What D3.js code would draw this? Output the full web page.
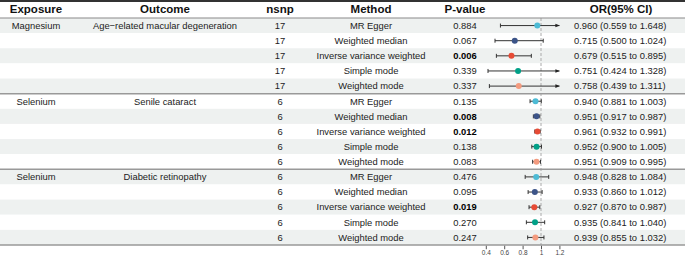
<!DOCTYPE html>
<html>
<head>
<meta charset="utf-8">
<script src="https://cdn.jsdelivr.net/npm/d3@7"></script>
<style>
    body { margin: 0; background: #fff; }
    svg text { font-family: "Liberation Sans", Arial, sans-serif; }
</style>
</head>
<body>
<div id="chart"></div>
<script>
// groups (exposure / outcome / nsnp)
const exposures = ["Magnesium", "Selenium", "Selenium"];
const outcomes = ["Age\u2212related macular degeneration", "Senile cataract", "Diabetic retinopathy"];
const nsnps = [17, 6, 6];
const methods = ["MR Egger", "Weighted median", "Inverse variance weighted", "Simple mode", "Weighted mode"];

// per group, per method
const pValues = [
    ["0.884", "0.067", "0.006", "0.339", "0.337"],
    ["0.135", "0.008", "0.012", "0.138", "0.083"],
    ["0.476", "0.095", "0.019", "0.270", "0.247"],
];
const orValues = [
    [0.960, 0.715, 0.679, 0.751, 0.758],
    [0.940, 0.951, 0.961, 0.952, 0.951],
    [0.948, 0.933, 0.927, 0.935, 0.939],
];
const ciLow = [
    [0.559, 0.500, 0.515, 0.424, 0.439],
    [0.881, 0.917, 0.932, 0.900, 0.909],
    [0.828, 0.860, 0.870, 0.841, 0.855],
];
const ciHigh = [
    [1.648, 1.024, 0.895, 1.328, 1.311],
    [1.003, 0.987, 0.991, 1.005, 0.995],
    [1.084, 1.012, 0.987, 1.040, 1.032],
];
const xTicks = [0.4, 0.6, 0.8, 1, 1.2];

const W = 685, H = 257;
const headerTop = 1, headerBottom = 18, tableBottom = 245;

// flatten to one row per method
let rows = [];
exposures.forEach((e, g) => {
    methods.forEach((m, k) => {
        rows.push({
            group: g,
            first: k === 0,
            exposure: e,
            outcome: outcomes[g],
            nsnp: nsnps[g],
            method: m,
            p: pValues[g][k],
            or: orValues[g][k],
            lo: ciLow[g][k],
            hi: ciHigh[g][k],
        });
    });
});

const svg = d3.select("#chart")
    .append("svg")
    .attr("width", W)
    .attr("height", H);

const y = d3.scaleBand()
    .domain(d3.range(rows.length))
    .range([headerBottom, tableBottom]);

const x = d3.scaleLinear()
    .domain([0.4, 1.2])
    .range([485.8, 559.4]);

const color = d3.scaleOrdinal()
    .domain(methods)
    .range(["#4DBBD5", "#3C5488", "#E64B35", "#00A087", "#F39B7F"]);

// column centres
const cols = { exposure: 36, outcome: 165, nsnp: 280, method: 371, p: 465, or: 621 };

// zebra background
svg.selectAll(".stripe")
    .data(rows)
    .enter()
    .append("rect")
    .attr("class", "stripe")
    .attr("x", 0)
    .attr("width", W)
    .attr("y", (d, i) => y(i))
    .attr("height", y.bandwidth())
    .attr("fill", (d, i) => (i % 2 === 0 ? "#eef1f0" : "#fff"));

// headers
const headers = [
    ["Exposure", cols.exposure],
    ["Outcome", cols.outcome],
    ["nsnp", cols.nsnp],
    ["Method", cols.method],
    ["P-value", cols.p],
    ["OR(95% CI)", cols.or],
];
svg.selectAll(".hdr")
    .data(headers)
    .enter()
    .append("text")
    .attr("class", "hdr")
    .attr("x", (d) => d[1])
    .attr("y", 13)
    .attr("text-anchor", "middle")
    .attr("font-size", "11.5px")
    .attr("font-weight", "bold")
    .attr("fill", "#111")
    .text((d) => d[0]);

// cell text
const cell = svg.selectAll(".row")
    .data(rows)
    .enter()
    .append("g")
    .attr("class", "row")
    .attr("transform", (d, i) => `translate(0, ${y(i) + y.bandwidth() / 2 + 3.3})`);

function addCell(sel, xPos, fn, anchor) {
    return sel.append("text")
        .attr("x", xPos)
        .attr("text-anchor", anchor || "middle")
        .attr("font-size", "9.4px")
        .attr("fill", "#222")
        .text(fn);
}

addCell(cell.filter((d) => d.first), cols.exposure, (d) => d.exposure);
addCell(cell.filter((d) => d.first), cols.outcome, (d) => d.outcome);
addCell(cell, cols.nsnp, (d) => d.nsnp);
addCell(cell, cols.method, (d) => d.method);
addCell(cell, cols.p, (d) => d.p)
    .attr("font-weight", (d) => (+d.p < 0.05 ? "bold" : "normal"))
    .attr("fill", (d) => (+d.p < 0.05 ? "#000" : "#222"));
addCell(cell, 574, (d) => `${d.or.toFixed(3)} (${d.lo.toFixed(3)} to ${d.hi.toFixed(3)})`, "start");

// reference line at OR = 1
svg.append("line")
    .attr("x1", x(1))
    .attr("x2", x(1))
    .attr("y1", headerBottom)
    .attr("y2", tableBottom)
    .attr("stroke", "#aaa")
    .attr("stroke-width", 1)
    .attr("stroke-dasharray", "3,2");

// arrowhead marker for CIs beyond the axis
svg.append("defs")
    .append("marker")
    .attr("id", "arrow")
    .attr("viewBox", "0 0 10 10")
    .attr("refX", 9)
    .attr("refY", 5)
    .attr("markerWidth", 4.5)
    .attr("markerHeight", 4.5)
    .attr("orient", "auto")
    .append("path")
    .attr("d", "M0,1L10,5L0,9Z")
    .attr("fill", "#222");

const [xmin, xmax] = x.domain();
const forest = svg.selectAll(".ci")
    .data(rows)
    .enter()
    .append("g")
    .attr("class", "ci")
    .attr("transform", (d, i) => `translate(0, ${y(i) + y.bandwidth() / 2})`);

forest.append("line")
    .attr("x1", (d) => x(Math.max(d.lo, xmin)))
    .attr("x2", (d) => x(Math.min(d.hi, xmax)))
    .attr("stroke", "#333")
    .attr("stroke-width", 1)
    .attr("marker-end", (d) => (d.hi > xmax ? "url(#arrow)" : null));

// caps
forest.filter((d) => d.lo >= xmin)
    .append("line")
    .attr("x1", (d) => x(d.lo))
    .attr("x2", (d) => x(d.lo))
    .attr("y1", -2)
    .attr("y2", 2)
    .attr("stroke", "#333");
forest.filter((d) => d.hi <= xmax)
    .append("line")
    .attr("x1", (d) => x(d.hi))
    .attr("x2", (d) => x(d.hi))
    .attr("y1", -2)
    .attr("y2", 2)
    .attr("stroke", "#333");

forest.append("circle")
    .attr("cx", (d) => x(d.or))
    .attr("r", 3)
    .attr("fill", (d) => color(d.method));

// rules
svg.append("line")
    .attr("x1", 0).attr("x2", W)
    .attr("y1", headerTop).attr("y2", headerTop)
    .attr("stroke", "#333")
    .attr("stroke-width", 2);
svg.append("line")
    .attr("x1", 0).attr("x2", W)
    .attr("y1", headerBottom).attr("y2", headerBottom)
    .attr("stroke", "#8a8a8a")
    .attr("stroke-width", 1.2);
svg.selectAll(".sep")
    .data(rows.filter((d, i) => d.first && i > 0))
    .enter()
    .append("line")
    .attr("class", "sep")
    .attr("x1", 0).attr("x2", W)
    .attr("y1", (d) => y(rows.indexOf(d)))
    .attr("y2", (d) => y(rows.indexOf(d)))
    .attr("stroke", "#999")
    .attr("stroke-width", 1.5);
svg.append("line")
    .attr("x1", 0).attr("x2", W)
    .attr("y1", tableBottom).attr("y2", tableBottom)
    .attr("stroke", "#999")
    .attr("stroke-width", 1.5);

// x axis
const axis = svg.append("g")
    .attr("transform", `translate(0, ${tableBottom + 0.75})`)
    .call(d3.axisBottom(x).tickValues(xTicks).tickSize(3.5).tickPadding(1.5).tickFormat(d3.format("~g")));
axis.select(".domain").remove();
axis.selectAll(".tick line").attr("stroke", "#555");
axis.selectAll(".tick text")
    .attr("font-size", "6.5px")
    .attr("fill", "#444")
    .attr("font-family", "Liberation Sans, Arial, sans-serif");
</script>
</body>
</html>
